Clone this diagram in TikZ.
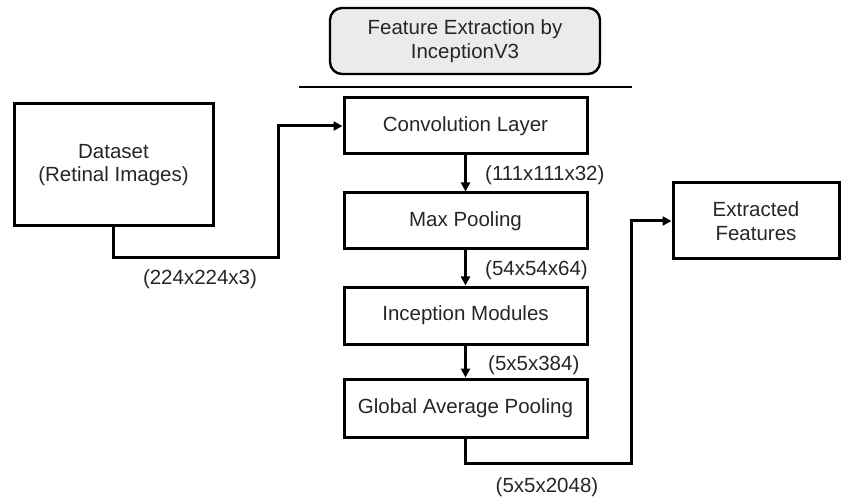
\documentclass[tikz,border=0pt]{standalone}
\usepackage{fontspec}
\setmainfont{Liberation Sans}
\usetikzlibrary{arrows.meta}
\begin{document}
\begin{tikzpicture}[x=1pt,y=-1pt,
  every node/.style={font=\fontsize{20.5}{23.5}\selectfont, align=center, text=black!85},
  blockbox/.style={draw=black, line width=3pt, minimum width=243pt, minimum height=56pt, inner sep=0pt},
  titlebox/.style={draw=black, line width=2.4pt, rounded corners=12pt, fill=black!8, minimum width=270pt, minimum height=66pt, inner sep=0pt},
  flow/.style={line width=3pt, -{Triangle[length=9pt,width=9pt]}},
  dimlabel/.style={inner sep=0pt, anchor=west}
]
\useasboundingbox (0,0) rectangle (841,497);

% heading and rule
\node[titlebox] (title) at (465,41) {Feature Extraction by\\InceptionV3};
\coordinate (ruleL) at (299,87);
\coordinate (ruleR) at (632,87);
\draw[line width=2.6pt] (ruleL) -- (ruleR);

% input and output
\node[blockbox, minimum width=199pt, minimum height=122pt] (ds) at (113.5,165) {Dataset\\(Retinal Images)};
\node[blockbox, minimum width=166pt, minimum height=76pt] (ext) at (756,221) {Extracted\\Features};

% InceptionV3 stages
\node[blockbox] (conv) at (465.5,126) {Convolution Layer};
\node[blockbox] (pool) at (465.5,221) {Max Pooling};
\node[blockbox, minimum height=57pt] (incep) at (465.5,315.5) {Inception Modules};
\node[blockbox, minimum height=58pt] (gap) at (465.5,408) {Global Average Pooling};

% connectors
\coordinate (b1) at (278,258);
\coordinate (b2) at (631,463);
\draw[flow] (ds.south) |- (b1) |- (conv.west);
\draw[flow] (conv) -- (pool);
\draw[flow] (pool) -- (incep);
\draw[flow] (incep) -- (gap);
\draw[flow] (gap.south) |- (b2) |- (ext.west);

% tensor shapes
\node[inner sep=0pt] (d0) at (200,279) {(224x224x3)};
\node[dimlabel] (d1) at (485,175) {(111x111x32)};
\node[dimlabel] (d2) at (485,270) {(54x54x64)};
\node[dimlabel] (d3) at (488,365) {(5x5x384)};
\node[inner sep=0pt] (d4) at (547,487) {(5x5x2048)};
\end{tikzpicture}
\end{document}
